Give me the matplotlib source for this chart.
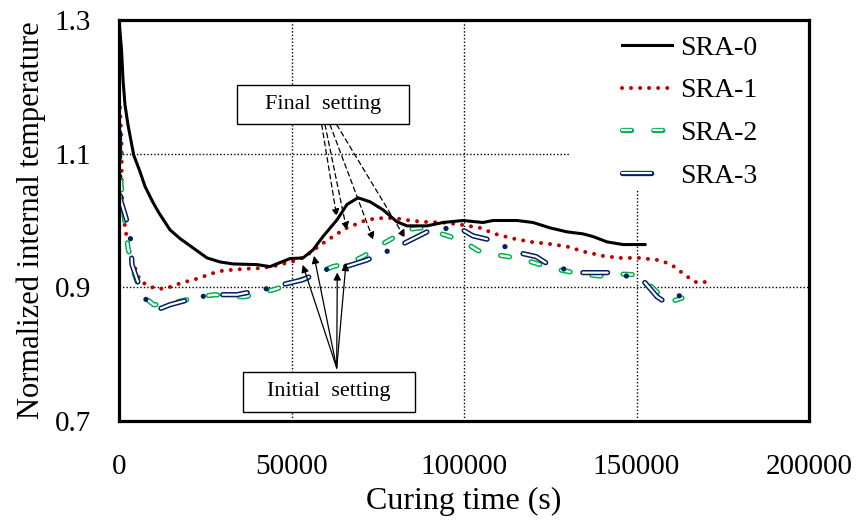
import matplotlib
matplotlib.use("Agg")
import matplotlib.pyplot as plt
from matplotlib.patches import Rectangle
from matplotlib.lines import Line2D

plt.rcParams['font.family'] = ['Liberation Serif', 'DejaVu Serif']
plt.rcParams['lines.scale_dashes'] = False

# ---- data -------------------------------------------------------------
sra0_t = [0, 725, 1159, 1739, 2609, 4261, 6087, 7536, 9855, 11507, 14783, 17681,
          21449, 25507, 29275, 33043, 40000, 43768, 46667, 49565, 53333, 56232,
          59130, 63188, 66087, 69275, 72754, 76522, 80580, 83478, 89275, 93913,
          99710, 105507, 108406, 115362, 120000, 124928, 129855, 134493, 137391,
          141449, 146087, 152464]
sra0_v = [1.300, 1.256, 1.211, 1.173, 1.143, 1.098, 1.073, 1.051, 1.027, 1.012,
          0.986, 0.973, 0.959, 0.944, 0.938, 0.935, 0.934, 0.931, 0.937, 0.943,
          0.944, 0.956, 0.976, 1.001, 1.024, 1.034, 1.028, 1.016, 0.998, 0.992,
          0.992, 0.997, 1.000, 0.997, 1.000, 1.000, 0.997, 0.989, 0.983, 0.980,
          0.976, 0.968, 0.964, 0.964]

sra1_t = [290, 783, 783, 1246, 1739, 2232, 3188, 4145, 5130, 6087, 8493, 10928,
          13333, 15652, 18261, 20580, 23478, 25797, 28406, 31014, 33623, 36232,
          38841, 41449, 44348, 46667, 48986, 51884, 54203, 56232, 58551, 60580,
          63188, 66087, 68986, 71884, 74783, 77681, 80580, 84348, 88116, 93913,
          98841, 104638, 108986, 114203, 119420, 124638, 129855, 135072, 140290,
          145217, 150725, 155942, 158551, 160870, 163188, 165507, 167536, 169855,
          172174]
sra1_v = [1.169, 1.110, 1.043, 1.016, 0.989, 0.976, 0.949, 0.937, 0.922, 0.910,
          0.902, 0.898, 0.898, 0.902, 0.907, 0.910, 0.914, 0.919, 0.923, 0.926,
          0.926, 0.928, 0.928, 0.929, 0.931, 0.934, 0.937, 0.941, 0.947, 0.955,
          0.964, 0.971, 0.980, 0.989, 0.995, 1.001, 1.003, 1.004, 1.003, 1.000,
          0.998, 0.997, 0.994, 0.989, 0.980, 0.973, 0.968, 0.965, 0.961, 0.953,
          0.947, 0.944, 0.944, 0.941, 0.937, 0.931, 0.922, 0.913, 0.907, 0.908,
          0.911]

sra2_t = [145, 290, 580, 1449, 2029, 2609, 4058, 6087, 7159, 10058, 13333, 23478,
          27826, 32754, 36522, 41739, 45797, 50145, 54493, 56232, 62029, 66957,
          70725, 75072, 79130, 82899, 87246, 91594, 95942, 100290, 104058, 108986,
          112754, 117681, 121449, 127826, 135072, 139420, 144638, 148986, 153043,
          155942, 159130, 163188]
sra2_v = [1.106, 1.073, 1.054, 1.009, 0.983, 0.959, 0.926, 0.896, 0.886, 0.874,
          0.874, 0.886, 0.889, 0.886, 0.886, 0.892, 0.898, 0.907, 0.914, 0.919,
          0.931, 0.937, 0.946, 0.961, 0.973, 0.986, 0.989, 0.983, 0.976, 0.967,
          0.955, 0.949, 0.946, 0.941, 0.935, 0.926, 0.919, 0.917, 0.920, 0.919,
          0.907, 0.893, 0.877, 0.884]

sra3_t = [145, 145, 435, 1739, 3188, 3478, 3768, 5507, 7159, 10058, 11884, 14783,
          23478, 28696, 34203, 42899, 48116, 53043, 61159, 66377, 71884, 80000,
          84638, 89275, 97971, 102609, 107536, 115652, 120870, 125507, 134203,
          139130, 144348, 152464, 155942, 158261, 160580, 163188]
sra3_v = [1.132, 1.081, 1.031, 1.009, 0.983, 0.959, 0.934, 0.908, 0.886, 0.868,
          0.868, 0.874, 0.886, 0.889, 0.889, 0.898, 0.905, 0.911, 0.929, 0.932,
          0.941, 0.959, 0.971, 0.983, 0.991, 0.977, 0.971, 0.952, 0.946, 0.931,
          0.922, 0.922, 0.922, 0.907, 0.886, 0.878, 0.881, 0.890]

labels = ['SRA-0', 'SRA-1', 'SRA-2', 'SRA-3']
x_ticks = [0, 50000, 100000, 150000, 200000]
y_ticks = [0.7, 0.9, 1.1, 1.3]

# setting-time markers (start of arrow -> point on curve)
final_from = [(58754, 1.1434), (59710, 1.1434), (61159, 1.1434), (63101, 1.1434)]
final_to = [(63101, 1.006), (66000, 0.986), (73710, 0.971), (82899, 0.974)]
initial_from = (63101, 0.7794)
initial_to = [(53246, 0.9337), (56522, 0.9472), (63275, 0.9222), (65797, 0.9363)]

# ---- figure -----------------------------------------------------------
fig = plt.figure(figsize=(8.58, 5.22), dpi=100)
ax = fig.add_axes([119 / 858, 1 - 421 / 522, 690 / 858, 401 / 522])

ax.set_xlim(0, 200000)
ax.set_ylim(0.7, 1.3)
ax.set_xticks(x_ticks)
ax.set_yticks(y_ticks)
ax.set_xticklabels([str(v) for v in x_ticks])
ax.set_yticklabels([f'{v:.1f}' for v in y_ticks])
ax.tick_params(axis='both', length=0, labelsize=21)
ax.tick_params(axis='x', pad=24)
ax.tick_params(axis='y', pad=20)
ax.grid(True, linestyle=(0, (1, 1.5)), color='black', linewidth=1.0)
for s in ax.spines.values():
    s.set_linewidth(2.3)
    s.set_zorder(10)

# white panel behind the legend
ax.add_patch(Rectangle((0.6536, 0.576), 0.3464, 0.424, transform=ax.transAxes,
                       facecolor='white', edgecolor='none', zorder=1.8))

green = '#00B050'
navy = '#002060'
red = '#C00000'

l0, = ax.plot(sra0_t, sra0_v, color='black', lw=2.2, zorder=4,
              solid_joinstyle='round')
l1, = ax.plot(sra1_t, sra1_v, color=red, lw=2.9, ls=(0, (0.01, 6.5)),
              dash_capstyle='round', zorder=3)

g_out, = ax.plot(sra2_t, sra2_v, color=green, lw=3.8, ls=(0, (6.5, 16)),
                 dash_capstyle='round', zorder=3)
g_in, = ax.plot(sra2_t, sra2_v, color='white', lw=1.6, ls=(0, (6.5, 16)),
                dash_capstyle='round', zorder=3.1)

b_out, = ax.plot(sra3_t, sra3_v, color=navy, lw=3.8, ls=(0, (17.8, 14, 0.01, 14)),
                 dash_capstyle='round', zorder=3.2)
b_in, = ax.plot(sra3_t, sra3_v, color='white', lw=1.6, ls=(0, (17.8, 28.01)),
                dash_capstyle='round', zorder=3.3)

# legend key for SRA-3: a single outlined dash
b_key_out = Line2D([], [], color=navy, lw=3.8, ls=(0, (21, 40)),
                   dash_capstyle='round')
b_key_in = Line2D([], [], color='white', lw=1.6, ls=(0, (21, 40)),
                  dash_capstyle='round')

ax.set_xlabel('Curing time (s)', fontsize=23, labelpad=5)
ax.set_ylabel('Normalized internal temperature', fontsize=22, labelpad=6)

leg = ax.legend([l0, l1, (g_out, g_in), (b_key_out, b_key_in)], labels,
                loc='upper left', bbox_to_anchor=(0.729, 0.962), frameon=False,
                fontsize=20, handlelength=1.8, handletextpad=0.3,
                labelspacing=0.62, borderpad=0, borderaxespad=0)
leg.set_zorder(12)

# annotation boxes
ax.add_patch(Rectangle((34203, 1.1449), 84058 - 34203, 1.2034 - 1.1449,
                       facecolor='white', edgecolor='black', lw=1.0, zorder=6))
ax.text((34203 + 84058) / 2, (1.1449 + 1.2034) / 2, 'Final  setting',
        ha='center', va='center', fontsize=16, zorder=7)
ax.add_patch(Rectangle((35942, 0.7135), 85797 - 35942, 0.7734 - 0.7135,
                       facecolor='white', edgecolor='black', lw=1.0, zorder=6))
ax.text((35942 + 85797) / 2, (0.7135 + 0.7734) / 2, 'Initial  setting',
        ha='center', va='center', fontsize=16, zorder=7)

for (x0, y0), (x1, y1) in zip(final_from, final_to):
    ax.annotate('', xy=(x1, y1), xytext=(x0, y0),
                arrowprops=dict(arrowstyle='-|>', color='black', lw=0.9,
                                linestyle=(0, (3.5, 2.5)), mutation_scale=11,
                                shrinkA=0, shrinkB=0), zorder=8)
for (x1, y1) in initial_to:
    ax.annotate('', xy=(x1, y1), xytext=initial_from,
                arrowprops=dict(arrowstyle='-|>', color='black', lw=0.9,
                                mutation_scale=11, shrinkA=0, shrinkB=0),
                zorder=8)

fig.savefig('out.png', dpi=100)
